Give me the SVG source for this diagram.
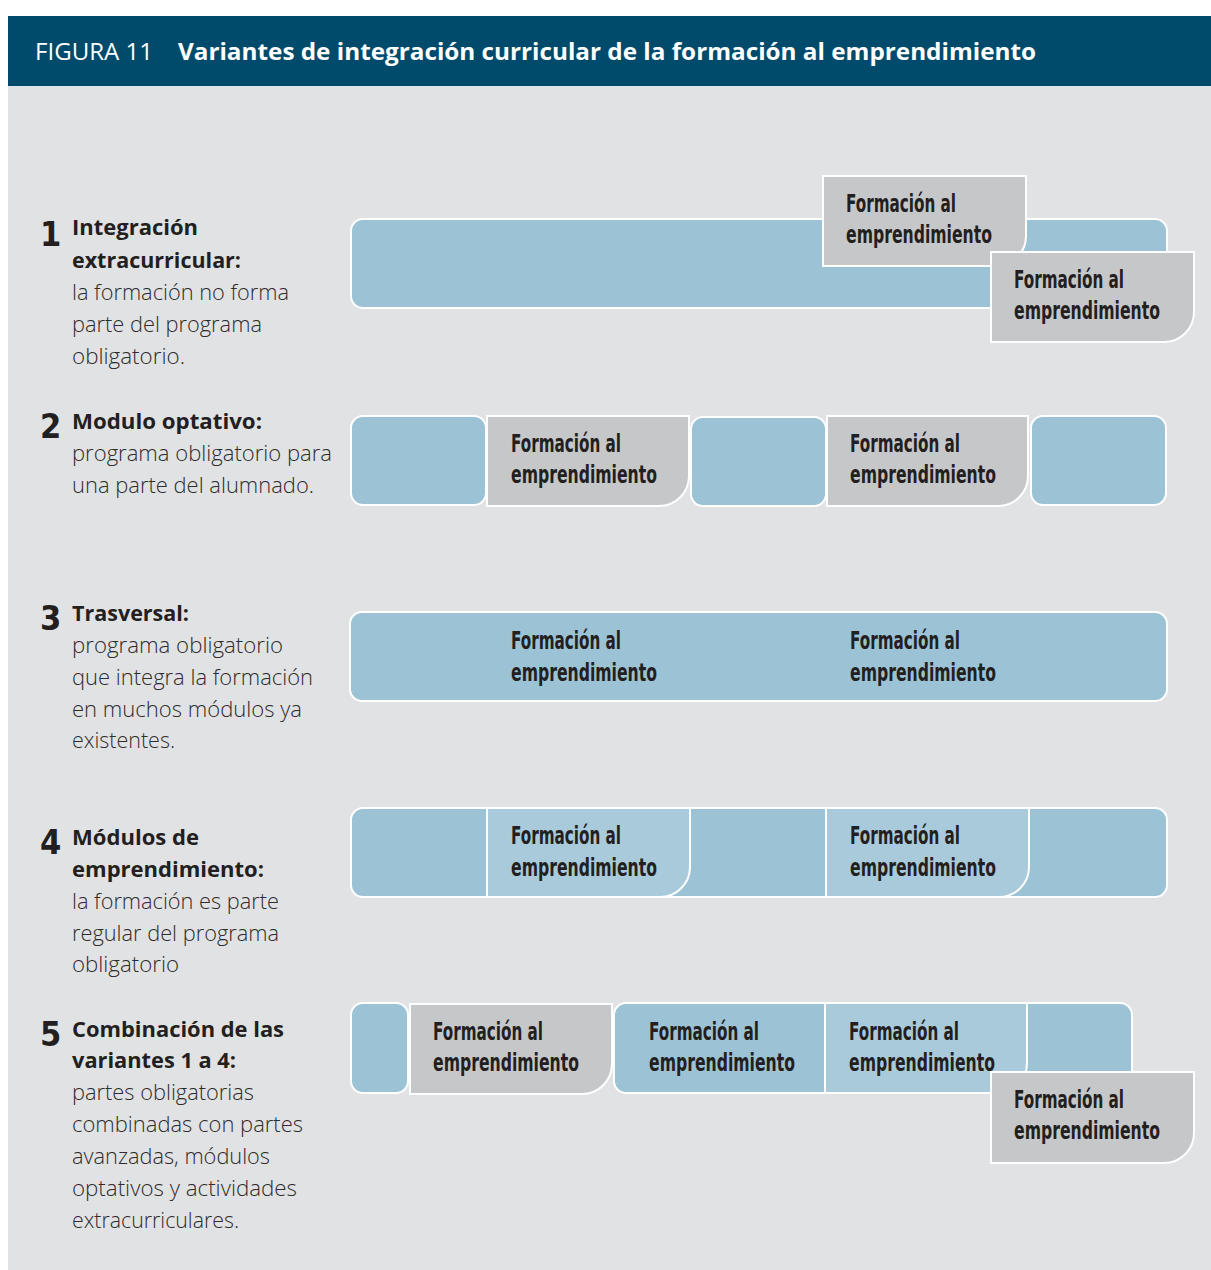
<svg xmlns="http://www.w3.org/2000/svg" width="1211" height="1270" viewBox="0 0 1211 1270">
<style>
.bg{fill:#e1e2e4}
.hd{fill:#004b6b}
.blue{fill:#9cc2d5;stroke:#ffffff;stroke-width:2}
.lblue{fill:#a9cadb;stroke:#ffffff;stroke-width:2}
.gray{fill:#c6c7c9;stroke:#ffffff;stroke-width:2}
.bt{font-family:"Liberation Sans Narrow","DejaVu Sans Condensed","Liberation Sans",sans-serif;font-weight:bold;font-size:24px;fill:#231f20}
.num{font-family:"Liberation Sans Narrow","DejaVu Sans Condensed","Liberation Sans",sans-serif;font-weight:bold;font-size:34px;fill:#231f20}
.tt{font-family:"Open Sans","Noto Sans","Liberation Sans",sans-serif;font-weight:bold;font-size:22px;fill:#231f20}
.tx{font-family:"Open Sans","Noto Sans","Liberation Sans",sans-serif;font-weight:300;font-size:22px;fill:#2e2c2c}
.h1{font-family:"Open Sans","Noto Sans","Liberation Sans",sans-serif;font-size:24px;fill:#ffffff}
.h2{font-family:"Open Sans","Noto Sans","Liberation Sans",sans-serif;font-weight:bold;font-size:24px;fill:#ffffff}
</style>
<rect x="0" y="0" width="1211" height="1270" fill="#ffffff"/>
<rect class="bg" x="8" y="86" width="1203" height="1184"/>
<g id="header">
<rect class="hd" x="8" y="16" width="1203" height="70"/>
<text class="h1" x="35" y="60" textLength="118" lengthAdjust="spacingAndGlyphs">FIGURA 11</text>
<text class="h2" x="178" y="60" textLength="858" lengthAdjust="spacingAndGlyphs">Variantes de integración curricular de la formación al emprendimiento</text>
</g>

<g id="labels">
<g id="label1">
<text class="num" x="40" y="246">1</text>
<text class="tt" x="72" y="235" textLength="126" lengthAdjust="spacingAndGlyphs">Integración</text>
<text class="tt" x="72" y="268" textLength="169" lengthAdjust="spacingAndGlyphs">extracurricular:</text>
<text class="tx" x="72" y="300" textLength="217" lengthAdjust="spacingAndGlyphs">la formación no forma</text>
<text class="tx" x="72" y="332" textLength="190" lengthAdjust="spacingAndGlyphs">parte del programa</text>
<text class="tx" x="72" y="364" textLength="113" lengthAdjust="spacingAndGlyphs">obligatorio.</text>
</g>
<g id="label2">
<text class="num" x="40" y="438">2</text>
<text class="tt" x="72" y="429" textLength="190" lengthAdjust="spacingAndGlyphs">Modulo optativo:</text>
<text class="tx" x="72" y="461" textLength="260" lengthAdjust="spacingAndGlyphs">programa obligatorio para</text>
<text class="tx" x="72" y="493" textLength="242" lengthAdjust="spacingAndGlyphs">una parte del alumnado.</text>
</g>
<g id="label3">
<text class="num" x="40" y="630">3</text>
<text class="tt" x="72" y="621" textLength="117" lengthAdjust="spacingAndGlyphs">Trasversal:</text>
<text class="tx" x="72" y="653" textLength="211" lengthAdjust="spacingAndGlyphs">programa obligatorio</text>
<text class="tx" x="72" y="685" textLength="241" lengthAdjust="spacingAndGlyphs">que integra la formación</text>
<text class="tx" x="72" y="717" textLength="230" lengthAdjust="spacingAndGlyphs">en muchos módulos ya</text>
<text class="tx" x="72" y="748" textLength="103" lengthAdjust="spacingAndGlyphs">existentes.</text>
</g>
<g id="label4">
<text class="num" x="40" y="854">4</text>
<text class="tt" x="72" y="845" textLength="127" lengthAdjust="spacingAndGlyphs">Módulos de</text>
<text class="tt" x="72" y="877" textLength="192" lengthAdjust="spacingAndGlyphs">emprendimiento:</text>
<text class="tx" x="72" y="909" textLength="207" lengthAdjust="spacingAndGlyphs">la formación es parte</text>
<text class="tx" x="72" y="941" textLength="207" lengthAdjust="spacingAndGlyphs">regular del programa</text>
<text class="tx" x="72" y="972" textLength="107" lengthAdjust="spacingAndGlyphs">obligatorio</text>
</g>
<g id="label5">
<text class="num" x="40" y="1046">5</text>
<text class="tt" x="72" y="1037" textLength="212" lengthAdjust="spacingAndGlyphs">Combinación de las</text>
<text class="tt" x="72" y="1068" textLength="164" lengthAdjust="spacingAndGlyphs">variantes 1 a 4:</text>
<text class="tx" x="72" y="1100" textLength="182" lengthAdjust="spacingAndGlyphs">partes obligatorias</text>
<text class="tx" x="72" y="1132" textLength="231" lengthAdjust="spacingAndGlyphs">combinadas con partes</text>
<text class="tx" x="72" y="1164" textLength="198" lengthAdjust="spacingAndGlyphs">avanzadas, módulos</text>
<text class="tx" x="72" y="1196" textLength="225" lengthAdjust="spacingAndGlyphs">optativos y actividades</text>
<text class="tx" x="72" y="1228" textLength="167" lengthAdjust="spacingAndGlyphs">extracurriculares.</text>
</g>
</g>

<g id="row1">
<rect id="r1-bar" class="blue" x="351" y="219" width="816" height="89" rx="12"/>
<g id="r1-box1">
<path class="gray" d="M823 176 H1026 V236 A30 30 0 0 1 996 266 H823 Z"/>
<text class="bt" x="846" y="212" textLength="110" lengthAdjust="spacingAndGlyphs">Formación al</text>
<text class="bt" x="846" y="243" textLength="146" lengthAdjust="spacingAndGlyphs">emprendimiento</text>
</g>
<g id="r1-box2">
<path class="gray" d="M991 252 H1194 V312 A30 30 0 0 1 1164 342 H991 Z"/>
<text class="bt" x="1014" y="288" textLength="110" lengthAdjust="spacingAndGlyphs">Formación al</text>
<text class="bt" x="1014" y="319" textLength="146" lengthAdjust="spacingAndGlyphs">emprendimiento</text>
</g>
</g>

<g id="row2">
<rect id="r2-b1" class="blue" x="351" y="416" width="135" height="89" rx="12"/>
<g id="r2-g1">
<path class="gray" d="M487 416 H689 V476 A30 30 0 0 1 659 506 H487 Z"/>
<text class="bt" x="511" y="452" textLength="110" lengthAdjust="spacingAndGlyphs">Formación al</text>
<text class="bt" x="511" y="483" textLength="146" lengthAdjust="spacingAndGlyphs">emprendimiento</text>
</g>
<rect id="r2-b2" class="blue" x="691" y="417" width="135" height="89" rx="12"/>
<g id="r2-g2">
<path class="gray" d="M827 416 H1028 V476 A30 30 0 0 1 998 506 H827 Z"/>
<text class="bt" x="850" y="452" textLength="110" lengthAdjust="spacingAndGlyphs">Formación al</text>
<text class="bt" x="850" y="483" textLength="146" lengthAdjust="spacingAndGlyphs">emprendimiento</text>
</g>
<rect id="r2-b3" class="blue" x="1031" y="416" width="135" height="89" rx="12"/>
</g>

<g id="row3">
<rect id="r3-bar" class="blue" x="350" y="612" width="817" height="89" rx="12"/>
<text class="bt" x="511" y="649" textLength="110" lengthAdjust="spacingAndGlyphs">Formación al</text>
<text class="bt" x="511" y="681" textLength="146" lengthAdjust="spacingAndGlyphs">emprendimiento</text>
<text class="bt" x="850" y="649" textLength="110" lengthAdjust="spacingAndGlyphs">Formación al</text>
<text class="bt" x="850" y="681" textLength="146" lengthAdjust="spacingAndGlyphs">emprendimiento</text>
</g>

<g id="row4">
<rect id="r4-bar" class="blue" x="351" y="808" width="816" height="89" rx="12"/>
<g id="r4-s1">
<path class="lblue" d="M487 808 H690 V867 A30 30 0 0 1 660 897 H487 Z"/>
<text class="bt" x="511" y="844" textLength="110" lengthAdjust="spacingAndGlyphs">Formación al</text>
<text class="bt" x="511" y="876" textLength="146" lengthAdjust="spacingAndGlyphs">emprendimiento</text>
</g>
<g id="r4-s2">
<path class="lblue" d="M826 808 H1029 V867 A30 30 0 0 1 999 897 H826 Z"/>
<text class="bt" x="850" y="844" textLength="110" lengthAdjust="spacingAndGlyphs">Formación al</text>
<text class="bt" x="850" y="876" textLength="146" lengthAdjust="spacingAndGlyphs">emprendimiento</text>
</g>
</g>

<g id="row5">
<rect id="r5-b1" class="blue" x="351" y="1003" width="57" height="90" rx="12"/>
<g id="r5-g1">
<path class="gray" d="M410 1004 H612 V1064 A30 30 0 0 1 582 1094 H410 Z"/>
<text class="bt" x="433" y="1040" textLength="110" lengthAdjust="spacingAndGlyphs">Formación al</text>
<text class="bt" x="433" y="1071" textLength="146" lengthAdjust="spacingAndGlyphs">emprendimiento</text>
</g>
<g id="r5-bar">
<rect class="blue" x="614" y="1003" width="518" height="90" rx="12"/>
<text class="bt" x="649" y="1040" textLength="110" lengthAdjust="spacingAndGlyphs">Formación al</text>
<text class="bt" x="649" y="1071" textLength="146" lengthAdjust="spacingAndGlyphs">emprendimiento</text>
</g>
<g id="r5-s1">
<path class="lblue" d="M825 1003 H1027 V1063 A30 30 0 0 1 997 1093 H825 Z"/>
<text class="bt" x="849" y="1040" textLength="110" lengthAdjust="spacingAndGlyphs">Formación al</text>
<text class="bt" x="849" y="1071" textLength="146" lengthAdjust="spacingAndGlyphs">emprendimiento</text>
</g>
<g id="r5-g2">
<path class="gray" d="M991 1072 H1194 V1133 A30 30 0 0 1 1164 1163 H991 Z"/>
<text class="bt" x="1014" y="1108" textLength="110" lengthAdjust="spacingAndGlyphs">Formación al</text>
<text class="bt" x="1014" y="1139" textLength="146" lengthAdjust="spacingAndGlyphs">emprendimiento</text>
</g>
</g>
<g id="connectors"></g>
</svg>
